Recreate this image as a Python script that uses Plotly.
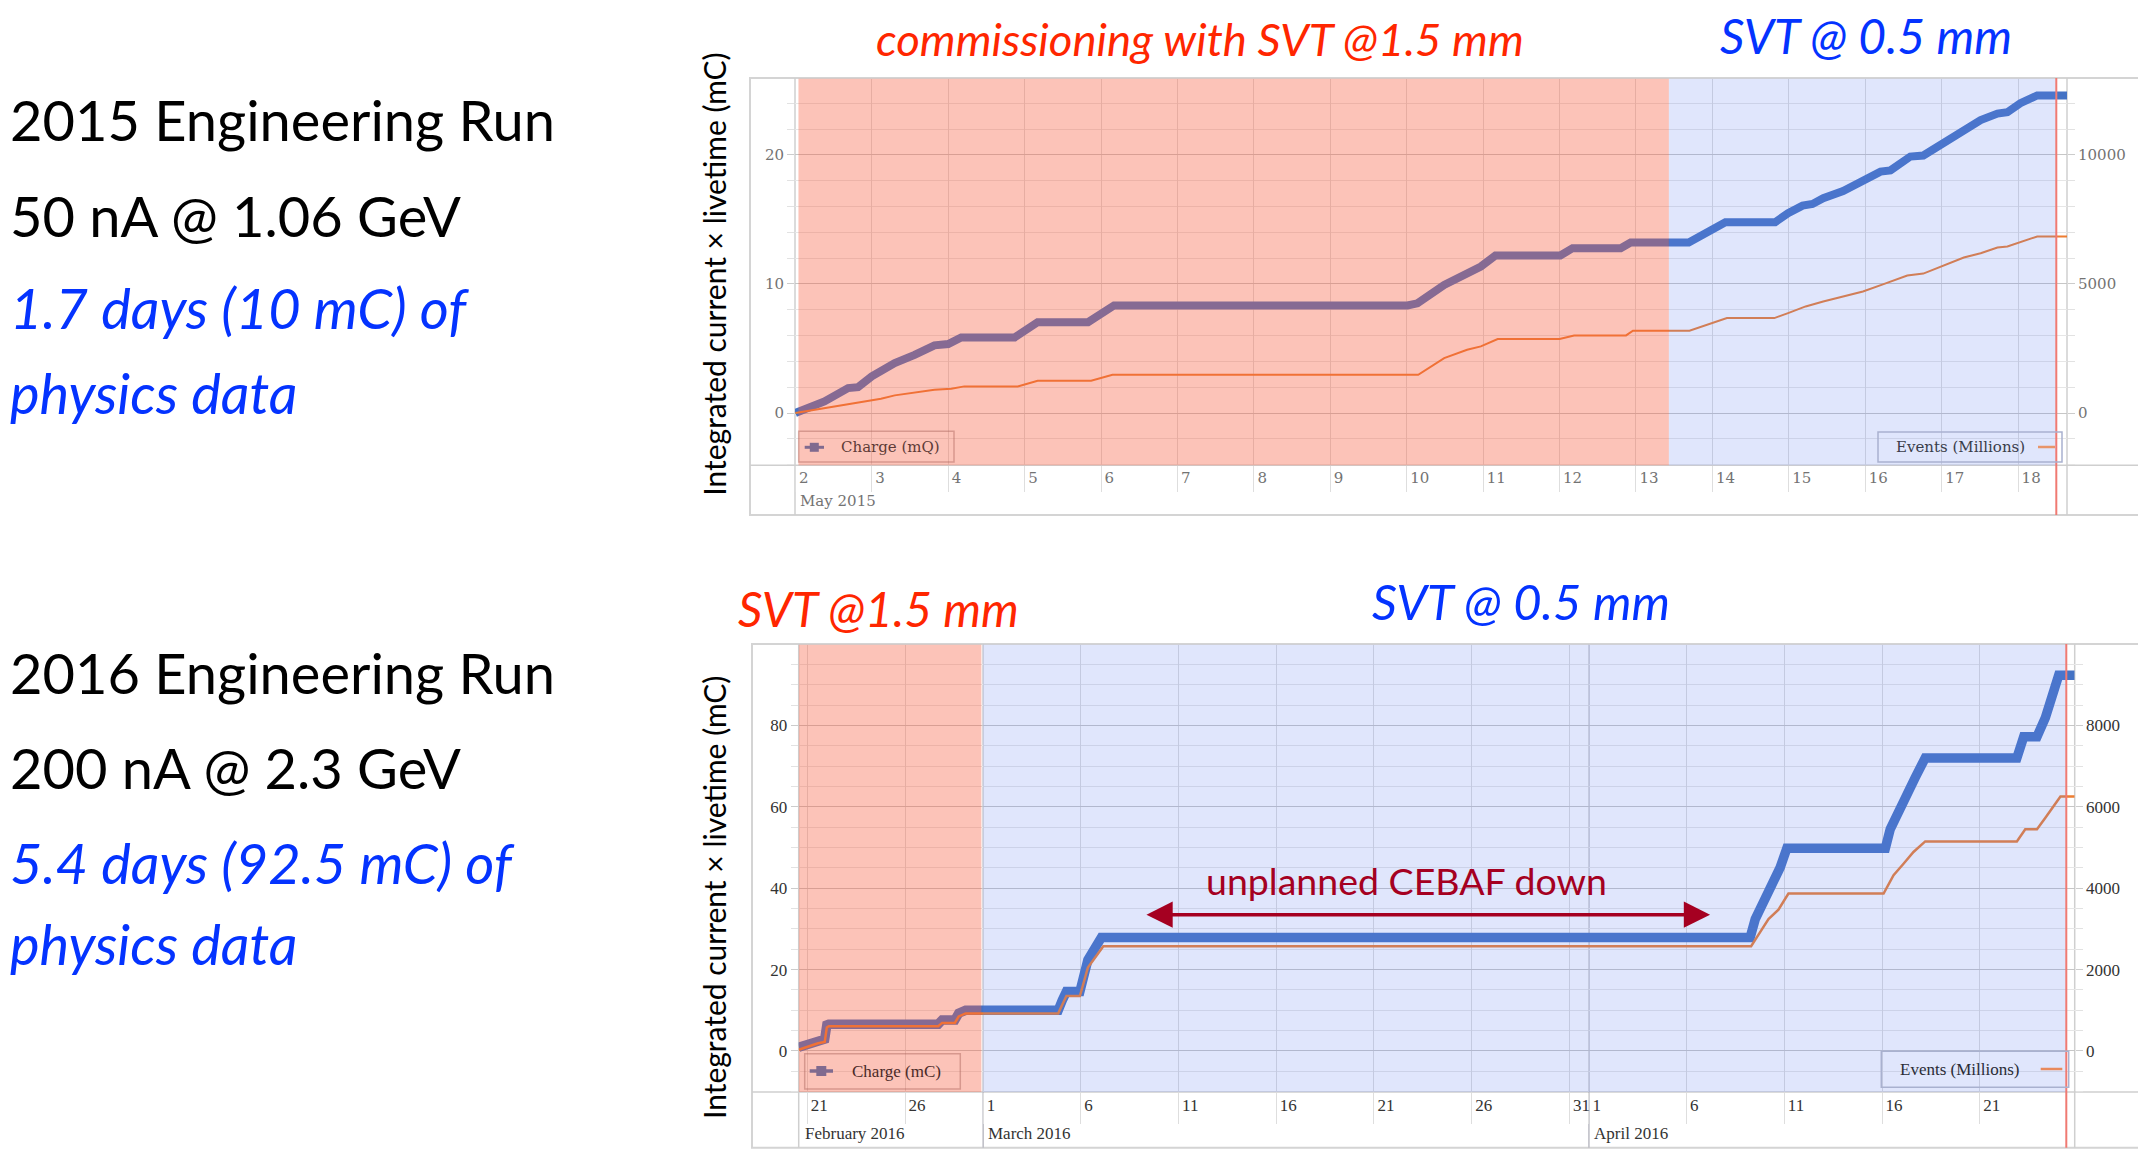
import pandas as pd
import plotly.graph_objects as go

W, H = 2146, 1159

# ---------------- 2015 Engineering Run (top panel) ----------------
# x = day of May 2015 (fractional)
may15_day_charge = [2.0, 2.16, 2.38, 2.69, 2.82, 3.0, 3.30, 3.56, 3.82, 4.0, 4.17, 4.87, 5.17, 5.83,
                    6.17, 10.01, 10.14, 10.49, 10.79, 10.97, 11.16, 12.01, 12.17, 12.8, 12.93, 13.69,
                    14.17, 14.82, 14.99, 15.18, 15.31, 15.45, 15.71, 15.97, 16.2, 16.33, 16.59, 16.76,
                    16.98, 17.29, 17.51, 17.73, 17.86, 18.03, 18.25, 18.64]
charge15_mC = [0.0, 0.39, 0.9, 1.93, 2.0, 2.84, 3.87, 4.5, 5.24, 5.34, 5.86, 5.86, 7.04, 7.04,
               8.33, 8.33, 8.5, 9.93, 10.84, 11.35, 12.2, 12.2, 12.77, 12.77, 13.21, 13.21,
               14.78, 14.78, 15.48, 16.07, 16.2, 16.64, 17.2, 17.93, 18.7, 18.8, 19.87, 19.95,
               20.77, 22.06, 22.7, 23.2, 23.3, 24.0, 24.6, 24.6]
may15_day_events = [2.0, 2.38, 2.82, 3.12, 3.30, 3.82, 4.04, 4.21, 4.91, 5.17, 5.87, 6.15, 10.15,
                    10.49, 10.79, 10.97, 11.19, 12.0, 12.19, 12.87, 12.96, 13.7, 14.19, 14.81, 14.99,
                    15.22, 15.45, 15.76, 15.97, 16.24, 16.55, 16.76, 17.07, 17.29, 17.51, 17.73,
                    17.86, 18.07, 18.25, 18.64]
events15_M = [0, 193, 387, 555, 684, 903, 942, 1032, 1032, 1251, 1251, 1483, 1483,
              2128, 2451, 2580, 2864, 2864, 3006, 3006, 3186, 3186, 3677, 3677, 3870,
              4129, 4322, 4554, 4709, 4992, 5327, 5400, 5766, 6025, 6192, 6412,
              6450, 6644, 6838, 6838]
top_tick_days = list(range(2, 19))
top_tick_text = [str(d) for d in top_tick_days]
top_range_days = [1.995, 18.64]
top_phase1_days = [2.04, 13.43]   # commissioning, SVT @1.5 mm
top_phase2_days = [13.43, 18.5]   # SVT @0.5 mm
top_now_day = 18.5

# ---------------- 2016 Engineering Run (bottom panel) ----------------
# x = days after 2016-02-21 00:00
t16_charge = [-0.44, 0.0, 0.55, 0.89, 1.0, 1.1, 6.7, 6.9, 7.55, 7.75, 8.1, 12.84, 13.05, 13.26,
              13.95, 14.36, 15.05, 48.25, 48.51, 48.94, 49.36, 49.79, 50.13, 55.17, 55.42, 55.85,
              56.36, 56.7, 57.21, 61.9, 62.25, 62.93, 63.36, 63.78, 64.04, 64.86]
charge16_mC = [0.9, 1.7, 2.6, 2.9, 6.4, 6.6, 6.6, 7.6, 7.6, 9.3, 10.0, 10.0, 12.5, 14.6,
               14.6, 22.4, 27.9, 27.9, 32.4, 36.6, 41.3, 45.1, 49.8, 49.8, 54.5, 59.2,
               64.9, 67.2, 72.0, 72.0, 77.2, 77.2, 81.9, 87.5, 92.3, 92.3]
t16_events = [-0.44, 0.0, 0.55, 0.89, 1.0, 1.1, 6.7, 6.9, 7.55, 7.75, 8.1, 12.84, 13.26, 13.95,
              14.36, 15.15, 48.3, 48.68, 49.19, 49.7, 50.21, 55.08, 55.59, 56.1, 56.61, 57.21,
              61.9, 62.33, 62.93, 63.36, 63.87, 64.13, 64.86]
events16_M = [30, 100, 190, 220, 580, 610, 610, 690, 690, 850, 924, 924, 1350, 1350,
              2050, 2575, 2575, 2860, 3240, 3470, 3870, 3870, 4320, 4600, 4890, 5150,
              5150, 5450, 5450, 5730, 6070, 6250, 6250]
bot_tick_dates = ["2016-02-21", "2016-02-26", "2016-03-01", "2016-03-06", "2016-03-11",
                  "2016-03-16", "2016-03-21", "2016-03-26", "2016-03-31", "2016-04-01",
                  "2016-04-06", "2016-04-11", "2016-04-16", "2016-04-21"]
bot_tick_text = ["21", "26", "1", "6", "11", "16", "21", "26", "31", "1", "6", "11", "16", "21"]
bot_month_dates = ["2016-03-01", "2016-04-01"]
bot_range_t = [-0.44, 64.86]
bot_phase1_t = [-0.44, 8.91]
bot_phase2_t = [9.0, 64.43]
bot_now_t = 64.43
cebaf_down_t = [17.28, 46.2]
cebaf_arrow_level = 33.5

# ---------------- helpers ----------------
def px(x):
    return x / W


def py(y):
    return 1 - y / H


def may(d):
    return (pd.Timestamp("2015-05-01") + pd.to_timedelta(d - 1, unit="D")).strftime("%Y-%m-%d %H:%M:%S")


def t16(o):
    return (pd.Timestamp("2016-02-21") + pd.to_timedelta(o, unit="D")).strftime("%Y-%m-%d %H:%M:%S")


BLUE = "#4472C4"
ORANGE = "#ED7D31"
PINK_OVER = "rgba(247,92,63,0.37)"
BLUE_OVER = "rgba(100,130,240,0.20)"
RED_TXT = "#FF2600"
BLUE_TXT = "#0433FF"
DARKRED = "#A50021"

fig = go.Figure()
fig.add_trace(go.Scatter(x=[may(d) for d in may15_day_charge], y=charge15_mC, xaxis="x", yaxis="y",
                         mode="lines", line=dict(color=BLUE, width=8), name="Charge (mQ)",
                         showlegend=False))
fig.add_trace(go.Scatter(x=[may(d) for d in may15_day_events], y=events15_M, xaxis="x", yaxis="y3",
                         mode="lines", line=dict(color=ORANGE, width=2), name="Events (Millions)",
                         showlegend=False))
fig.add_trace(go.Scatter(x=[t16(o) for o in t16_charge], y=charge16_mC, xaxis="x2", yaxis="y2",
                         mode="lines", line=dict(color=BLUE, width=9.5), name="Charge (mC)",
                         showlegend=False))
fig.add_trace(go.Scatter(x=[t16(o) for o in t16_events], y=events16_M, xaxis="x2", yaxis="y4",
                         mode="lines", line=dict(color=ORANGE, width=2.5), name="Events (Millions)",
                         showlegend=False))

top_font = dict(family="DejaVu Serif", size=15, color="#737373")
bot_font = dict(family="Liberation Serif", size=17, color="#333333")

common_x = dict(type="date", tickmode="array", ticks="outside", tickcolor="#dedede", tickwidth=1,
                showgrid=True, gridcolor="#dcdcdc", gridwidth=1, showline=False, zeroline=False,
                ticklabelposition="outside right", tickangle=0, automargin=False)

fig.update_layout(
    width=W, height=H, template="none",
    paper_bgcolor="white", plot_bgcolor="white",
    margin=dict(l=0, r=0, t=0, b=0, pad=0),
    showlegend=False,
    xaxis=dict(domain=[px(787), px(2059)], anchor="y",
               range=[may(top_range_days[0]), may(top_range_days[1])],
               tickvals=[may(d) for d in top_tick_days], ticktext=top_tick_text,
               ticklen=26, tickfont=top_font, ticklabelstandoff=-1, ticklabelshift=3, **common_x),
    yaxis=dict(domain=[py(457.3), py(70.7)], anchor="x", range=[-4.05, 25.9], tick0=0, dtick=10,
               ticks="outside", ticklen=7, tickcolor="#cccccc", showgrid=True, gridcolor="#c6c6c6",
               minor=dict(tick0=0, dtick=2, showgrid=True, gridcolor="#e6e6e6", ticks="outside",
                          ticklen=7, tickcolor="#e2e2e2"),
               tickfont=top_font, zeroline=False, showline=False, automargin=False),
    yaxis3=dict(overlaying="y", side="right", anchor="x", range=[-2025, 12950], tick0=0, dtick=5000,
                tickformat="d",
                ticks="outside", ticklen=7, tickcolor="#cccccc", showgrid=False,
                minor=dict(tick0=0, dtick=1000, ticks="outside", ticklen=7, tickcolor="#e2e2e2",
                           showgrid=False),
                tickfont=top_font, zeroline=False, showline=False, automargin=False),
    xaxis2=dict(domain=[px(790.7), px(2066.7)], anchor="y2",
                range=[t16(bot_range_t[0]), t16(bot_range_t[1])],
                tickvals=bot_tick_dates, ticktext=bot_tick_text,
                ticklen=31, tickfont=bot_font, ticklabelstandoff=-3, ticklabelshift=3, **common_x),
    yaxis2=dict(domain=[py(1084.1), py(636.8)], anchor="x2", range=[-10.1, 99.8], tick0=0, dtick=20,
                ticks="outside", ticklen=7, tickcolor="#cccccc", showgrid=True, gridcolor="#c6c6c6",
                minor=dict(tick0=0, dtick=5, showgrid=True, gridcolor="#e6e6e6", ticks="outside",
                           ticklen=7, tickcolor="#e2e2e2"),
                tickfont=bot_font, zeroline=False, showline=False, automargin=False),
    yaxis4=dict(overlaying="y2", side="right", anchor="x2", range=[-1010, 9980], tick0=0, dtick=2000,
                tickformat="d",
                ticks="outside", ticklen=7, tickcolor="#cccccc", showgrid=False,
                minor=dict(tick0=0, dtick=500, ticks="outside", ticklen=7, tickcolor="#e2e2e2",
                           showgrid=False),
                tickfont=bot_font, zeroline=False, showline=False, automargin=False),
)

shapes = []
AX = "#cfcfcf"
# frames and axis lines (top)
shapes.append(dict(type="rect", xref="paper", yref="paper", x0=px(742), x1=px(2133), y0=py(507), y1=py(70),
                   line=dict(color="#d4d4d4", width=2), layer="below"))
shapes.append(dict(type="line", xref="paper", yref="paper", x0=px(742), x1=px(2133), y0=py(457.3), y1=py(457.3),
                   line=dict(color=AX, width=1.5), layer="below"))
shapes.append(dict(type="line", xref="paper", yref="paper", x0=px(787), x1=px(787), y0=py(507), y1=py(70),
                   line=dict(color=AX, width=1.5), layer="below"))
shapes.append(dict(type="line", xref="paper", yref="paper", x0=px(2059), x1=px(2059), y0=py(507), y1=py(70),
                   line=dict(color=AX, width=1.5), layer="below"))
# frames and axis lines (bottom)
shapes.append(dict(type="rect", xref="paper", yref="paper", x0=px(744), x1=px(2131), y0=py(1139.8), y1=py(636),
                   line=dict(color="#d4d4d4", width=2), layer="below"))
shapes.append(dict(type="line", xref="paper", yref="paper", x0=px(744), x1=px(2131), y0=py(1084.1), y1=py(1084.1),
                   line=dict(color=AX, width=1.5), layer="below"))
shapes.append(dict(type="line", xref="paper", yref="paper", x0=px(790.7), x1=px(790.7), y0=py(1139.8), y1=py(636),
                   line=dict(color=AX, width=1.5), layer="below"))
shapes.append(dict(type="line", xref="paper", yref="paper", x0=px(2066.7), x1=px(2066.7), y0=py(1139.8), y1=py(636),
                   line=dict(color=AX, width=1.5), layer="below"))
for md in bot_month_dates:
    shapes.append(dict(type="line", xref="x2", yref="paper", x0=md, x1=md, y0=py(1139.8), y1=py(636.8),
                       line=dict(color="#bcbcc4", width=1.5), layer="below"))

# phase overlays
shapes.append(dict(type="rect", xref="x", yref="y domain", x0=may(top_phase1_days[0]), x1=may(top_phase1_days[1]),
                   y0=0, y1=1, fillcolor=PINK_OVER, line=dict(width=0), layer="above"))
shapes.append(dict(type="rect", xref="x", yref="y domain", x0=may(top_phase2_days[0]), x1=may(top_phase2_days[1]),
                   y0=0, y1=1, fillcolor=BLUE_OVER, line=dict(width=0), layer="above"))
shapes.append(dict(type="rect", xref="x2", yref="y2 domain", x0=t16(bot_phase1_t[0]), x1=t16(bot_phase1_t[1]),
                   y0=0, y1=1, fillcolor=PINK_OVER, line=dict(width=0), layer="above"))
shapes.append(dict(type="rect", xref="x2", yref="y2 domain", x0=t16(bot_phase2_t[0]), x1=t16(bot_phase2_t[1]),
                   y0=0, y1=1, fillcolor=BLUE_OVER, line=dict(width=0), layer="above"))
# "now" red lines
shapes.append(dict(type="line", xref="x", yref="paper", x0=may(top_now_day), x1=may(top_now_day),
                   y0=py(507), y1=py(70), line=dict(color="#F07A72", width=2), layer="above"))
shapes.append(dict(type="line", xref="x2", yref="paper", x0=t16(bot_now_t), x1=t16(bot_now_t),
                   y0=py(1139.8), y1=py(636), line=dict(color="#F07A72", width=2), layer="above"))

# legend boxes
def legend_box(x0, x1, y0, y1, col):
    shapes.append(dict(type="rect", xref="paper", yref="paper", x0=px(x0), x1=px(x1), y0=py(y1), y1=py(y0),
                       line=dict(color=col, width=1.5), layer="above"))


def legend_line(x0, x1, y, col, w):
    shapes.append(dict(type="line", xref="paper", yref="paper", x0=px(x0), x1=px(x1), y0=py(y), y1=py(y),
                       line=dict(color=col, width=w), layer="above"))


def legend_square(xc, y, s, col):
    shapes.append(dict(type="rect", xref="paper", yref="paper", x0=px(xc - s), x1=px(xc + s),
                       y0=py(y + s), y1=py(y - s), fillcolor=col, line=dict(width=0), layer="above"))


legend_box(790.7, 946, 423.3, 454, "rgba(170,100,90,0.45)")
legend_line(796.7, 816, 439.3, "#806a8f", 3)
legend_square(806.3, 439.3, 4.5, "#806a8f")
legend_box(1870, 2054, 424, 454, "#a9b1cf")
legend_line(2030, 2047, 439, "#E8956A", 2.5)
legend_box(796.7, 952.3, 1045.7, 1081.1, "rgba(170,100,90,0.45)")
legend_line(801.7, 825, 1063, "#806a8f", 3.5)
legend_square(813.3, 1063, 5, "#806a8f")
legend_box(1873.3, 2060.7, 1043.3, 1079.3, "#a9b1cf")
legend_line(2032.7, 2054.3, 1061, "#E8895C", 2.5)

fig.update_layout(shapes=shapes)

ann = []


def text(x, y, s, size, color, family="Lato", style="normal", anchor="left", angle=0):
    ann.append(dict(xref="paper", yref="paper", x=px(x), y=py(y), text=s, showarrow=False,
                    xanchor=anchor, yanchor="middle", textangle=angle,
                    font=dict(family=family, size=size, color=color, style=style)))


# left-hand text block
LX = 0
text(LX, 112, "2015 Engineering Run", 56, "#000000")
text(LX, 207, "50 nA @ 1.06 GeV", 56, "#000000")
text(LX, 299, "1.7 days (10 mC) of", 56, BLUE_TXT, style="italic")
text(LX, 384, "physics data", 56, BLUE_TXT, style="italic")
text(LX, 664, "2016 Engineering Run", 56, "#000000")
text(LX, 760, "200 nA @ 2.3 GeV", 56, "#000000")
text(LX, 854, "5.4 days (92.5 mC) of", 56, BLUE_TXT, style="italic")
text(LX, 935, "physics data", 56, BLUE_TXT, style="italic")

# phase titles
text(866, 30, "commissioning with SVT @1.5 mm", 45.5, RED_TXT, style="italic")
text(1710, 27, "SVT @ 0.5 mm", 48, BLUE_TXT, style="italic")
text(728, 600, "SVT @1.5 mm", 48, RED_TXT, style="italic")
text(1362, 592.5, "SVT @ 0.5 mm", 49, BLUE_TXT, style="italic")
text(1196, 872, "unplanned CEBAF down", 37.5, DARKRED)

# axis titles
text(706, 266.7, "Integrated current × livetime (mC)", 30, "#000000", anchor="center", angle=-90)
text(706, 890, "Integrated current × livetime (mC)", 30, "#000000", anchor="center", angle=-90)

# legend labels
text(830.7, 439.3, "Charge (mQ)", 15, "#5e3b37", family="DejaVu Serif")
text(1886, 439, "Events (Millions)", 15, "#3a3d4a", family="DejaVu Serif")
text(841.7, 1063, "Charge (mC)", 17, "#4a2a28", family="Liberation Serif")
text(1890, 1061.7, "Events (Millions)", 17, "#2a2c36", family="Liberation Serif")

# month labels under the date axes
ann.append(dict(xref="x", yref="paper", x=may(2), y=py(493.3), text="May 2015", showarrow=False,
                xanchor="left", yanchor="middle", xshift=3, font=top_font))
ann.append(dict(xref="paper", yref="paper", x=px(795), y=py(1125.2), text="February 2016", showarrow=False,
                xanchor="left", yanchor="middle", font=bot_font))
ann.append(dict(xref="x2", yref="paper", x=bot_month_dates[0], y=py(1125.2), text="March 2016", showarrow=False,
                xanchor="left", yanchor="middle", xshift=3, font=bot_font))
ann.append(dict(xref="x2", yref="paper", x=bot_month_dates[1], y=py(1125.2), text="April 2016", showarrow=False,
                xanchor="left", yanchor="middle", xshift=3, font=bot_font))

# double-headed arrow for the CEBAF downtime
ann.append(dict(xref="x2", yref="y2", axref="x2", ayref="y2",
                x=t16(cebaf_down_t[1]), y=cebaf_arrow_level, ax=t16(cebaf_down_t[0]), ay=cebaf_arrow_level,
                text="", showarrow=True, arrowhead=2, startarrowhead=2, arrowside="end+start",
                arrowwidth=3.5, arrowsize=1.5, startarrowsize=1.5, arrowcolor=DARKRED, standoff=0,
                startstandoff=0))

fig.update_layout(annotations=ann)

fig.write_html("out.html")
